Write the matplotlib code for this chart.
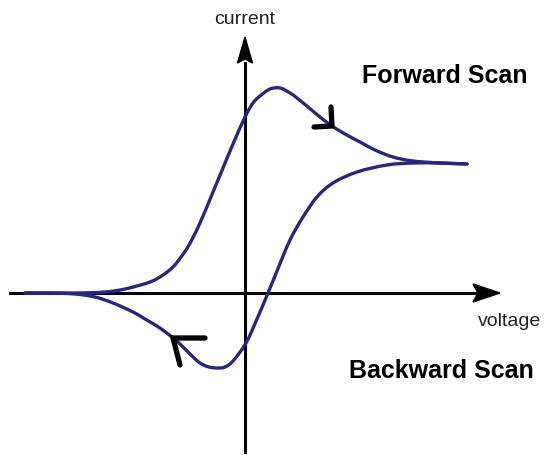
import numpy as np
import matplotlib
matplotlib.use("Agg")
import matplotlib.pyplot as plt
from matplotlib.patches import Polygon, PathPatch
from matplotlib.path import Path

plt.rcParams['font.family'] = ['Liberation Sans', 'DejaVu Sans']

# cyclic voltammogram sketch, arbitrary units
# forward scan (voltage rising)
fwd_v = [-2.20, -1.90, -1.65, -1.40, -1.20, -0.95, -0.82, -0.72, -0.64, -0.56,
         -0.45, -0.32, -0.22, -0.12, 0.00, 0.08, 0.15, 0.25, 0.35, 0.45,
         0.52, 0.63, 0.75, 0.87, 1.00, 1.15, 1.30, 1.48, 1.68, 1.95, 2.22]
fwd_i = [0.00, 0.00, 0.00, 0.01, 0.04, 0.11, 0.18, 0.26, 0.36, 0.48,
         0.70, 1.01, 1.25, 1.49, 1.76, 1.90, 1.97, 2.04, 2.05, 2.00,
         1.95, 1.86, 1.76, 1.67, 1.59, 1.51, 1.43, 1.36, 1.32, 1.30, 1.29]

# backward scan (voltage falling)
bwd_v = [2.22, 1.95, 1.68, 1.42, 1.12, 0.88, 0.72, 0.58, 0.45, 0.32,
         0.23, 0.12, 0.01, -0.12, -0.20, -0.27, -0.36, -0.45, -0.55, -0.65,
         -0.72, -0.85, -1.00, -1.12, -1.32, -1.50, -1.70, -1.95, -2.20]
bwd_i = [1.29, 1.30, 1.30, 1.28, 1.21, 1.10, 0.96, 0.76, 0.53, 0.22,
         0.00, -0.26, -0.50, -0.68, -0.74, -0.75, -0.74, -0.70, -0.61, -0.51,
         -0.45, -0.35, -0.26, -0.19, -0.10, -0.04, -0.01, 0.00, 0.00]

line_col = '#27277f'


def smooth_path(xs, ys):
    # Catmull-Rom through the points, written as cubic Bezier segments
    p = np.column_stack([xs, ys])
    p = np.vstack([p[0], p, p[-1]])
    verts = [p[1]]
    codes = [Path.MOVETO]
    for j in range(1, len(p) - 2):
        c1 = p[j] + (p[j + 1] - p[j - 1]) / 6.0
        c2 = p[j + 1] - (p[j + 2] - p[j]) / 6.0
        verts += [c1, c2, p[j + 1]]
        codes += [Path.CURVE4] * 3
    return Path(verts, codes)


fig = plt.figure(figsize=(5.47, 4.55), dpi=100)
ax = fig.add_axes([0, 0, 1, 1])
ax.set_xlim(-2.45, 3.02)
ax.set_ylim(-1.62, 2.93)
ax.axis('off')

# axes with arrow heads
ax.plot([-2.35, 2.30], [0, 0], color='black', lw=2.2, zorder=1)
ax.plot([0, 0], [-1.59, 2.30], color='black', lw=2.2, zorder=1)
ax.add_patch(Polygon([[2.55, 0], [2.28, 0.09], [2.33, 0], [2.28, -0.09]],
                     closed=True, color='black', zorder=1))
ax.add_patch(Polygon([[0, 2.56], [-0.075, 2.30], [0, 2.34], [0.075, 2.30]],
                     closed=True, color='black', zorder=1))

for xs, ys in [(fwd_v, fwd_i), (bwd_v, bwd_i)]:
    ax.add_patch(PathPatch(smooth_path(xs, ys), facecolor='none',
                           edgecolor=line_col, lw=2.4, zorder=2,
                           joinstyle='round', capstyle='round'))

# hand drawn direction marks sitting on the curve
k = fwd_v.index(0.87)
cx, cy = fwd_v[k], fwd_i[k]
ax.plot([cx - 0.18, cx, cx - 0.01], [cy - 0.01, cy, cy + 0.19],
        color='black', lw=3.8, solid_capstyle='round',
        solid_joinstyle='miter', zorder=3)
k = bwd_v.index(-0.72)
cx, cy = bwd_v[k], bwd_i[k]
ax.plot([cx + 0.32, cx, cx + 0.07], [cy, cy, cy - 0.27],
        color='black', lw=3.8, solid_capstyle='round',
        solid_joinstyle='miter', zorder=3)

ax.text(0.0, 2.74, 'current', ha='center', va='center', fontsize=14,
        color='#222222')
ax.text(2.65, -0.29, 'voltage', ha='center', va='center', fontsize=14,
        color='#222222')
ax.text(2.00, 2.17, 'Forward Scan', ha='center', va='center', fontsize=18,
        fontweight='bold', color='black')
ax.text(1.96, -0.78, 'Backward Scan', ha='center', va='center', fontsize=18,
        fontweight='bold', color='black')

fig.savefig('out.png', dpi=100)
